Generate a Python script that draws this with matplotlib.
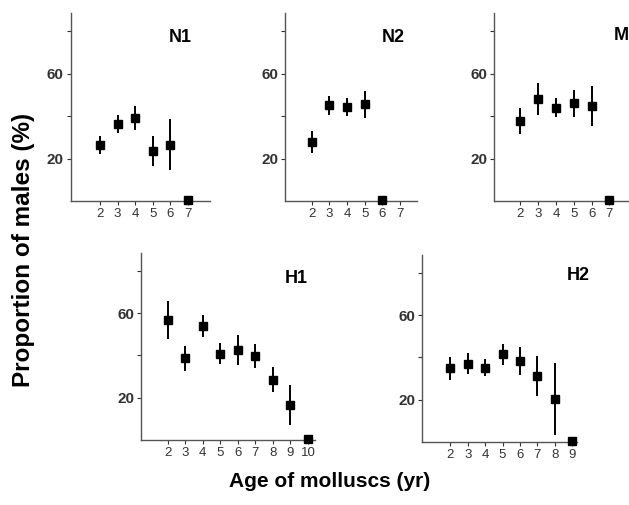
import numpy as np
import matplotlib
matplotlib.use("Agg")
import matplotlib.pyplot as plt

plt.rcParams['font.family'] = ['Liberation Sans', 'DejaVu Sans']

# age (yr), proportion of males (%), error (+/-)
n1_age = [2, 3, 4, 5, 6, 7]
n1_val = [26.3, 36.2, 39.0, 23.4, 26.4, 0.5]
n1_err = [4.3, 4.3, 5.7, 7.0, 12.0, 0]
n1_ticks = [2, 3, 4, 5, 6, 7]

n2_age = [2, 3, 4, 5, 6]
n2_val = [27.8, 45.1, 44.1, 45.5, 0.5]
n2_err = [5.2, 4.4, 4.3, 6.5, 0]
n2_ticks = [2, 3, 4, 5, 6, 7]

m_age = [2, 3, 4, 5, 6, 7]
m_val = [37.7, 48.2, 44.0, 46.0, 44.8, 0.5]
m_err = [6.0, 7.5, 4.3, 6.3, 9.5, 0]
m_ticks = [2, 3, 4, 5, 6, 7]

h1_age = [2, 3, 4, 5, 6, 7, 8, 9, 10]
h1_val = [56.7, 38.7, 53.8, 40.9, 42.6, 39.6, 28.6, 16.4, 0.5]
h1_err = [9.0, 6.0, 5.2, 4.8, 7.0, 5.6, 6.0, 9.5, 0]
h1_ticks = [2, 3, 4, 5, 6, 7, 8, 9, 10]

h2_age = [2, 3, 4, 5, 6, 7, 8, 9]
h2_val = [34.9, 37.1, 35.1, 41.5, 38.5, 31.3, 20.5, 0.5]
h2_err = [5.5, 5.0, 4.0, 5.0, 6.6, 9.5, 17.0, 0]
h2_ticks = [2, 3, 4, 5, 6, 7, 8, 9]

W, H = 629, 505
fig = plt.figure(figsize=(W / 100, H / 100), dpi=100)


def panel(px_left, px_right, px_top, px_bottom, xlim, ages, vals, errs, ticks,
          name, name_xy):
	ax = fig.add_axes([px_left / W, 1 - px_bottom / H,
	                   (px_right - px_left) / W, (px_bottom - px_top) / H])
	ax.errorbar(ages, vals, yerr=errs, fmt='s', color='black', ms=5.5,
	            elinewidth=1.4, capsize=0, clip_on=False, zorder=3)
	ax.set_xlim(*xlim)
	ax.set_ylim(0, 88.5)
	ax.set_xticks(ticks)
	ax.set_xticklabels([str(a) for a in ticks], fontsize=9.5)
	ax.set_yticks([20, 40, 60, 80])
	ax.set_yticklabels(['20', '', '60', ''], fontsize=11, fontweight='bold')
	ax.tick_params(direction='out', length=3, width=0.8, pad=2, colors='#333333')
	for s in ['top', 'right']:
		ax.spines[s].set_visible(False)
	for s in ['left', 'bottom']:
		ax.spines[s].set_color('#555555')
		ax.spines[s].set_linewidth(1.0)
	ax.patch.set_alpha(0)
	ax.text(name_xy[0], name_xy[1], name, transform=ax.transAxes,
	        fontsize=13, fontweight='bold', ha='center', va='center')
	return ax


panel(70.7, 210, 13, 201, (0.34, 8.25), n1_age, n1_val, n1_err, n1_ticks, 'N1', (0.79, 0.87))
panel(285, 416.7, 13, 201, (0.5, 7.93), n2_age, n2_val, n2_err, n2_ticks, 'N2', (0.82, 0.87))
panel(494, 629, 13, 201, (0.52, 8.1), m_age, m_val, m_err, m_ticks, 'M', (0.94, 0.88))
panel(141, 315, 253, 440, (0.48, 10.4), h1_age, h1_val, h1_err, h1_ticks, 'H1', (0.89, 0.865))
panel(422.3, 576.7, 255, 442, (0.4, 9.25), h2_age, h2_val, h2_err, h2_ticks, 'H2', (1.01, 0.89))

fig.text(23.5 / W, 1 - 250 / H, 'Proportion of males (%)', rotation=90,
         fontsize=17.5, fontweight='bold', ha='center', va='center')
fig.text(330 / W, 1 - 487 / H, 'Age of molluscs (yr)',
         fontsize=15, fontweight='bold', ha='center', va='baseline')

plt.savefig('out.png', dpi=100)
